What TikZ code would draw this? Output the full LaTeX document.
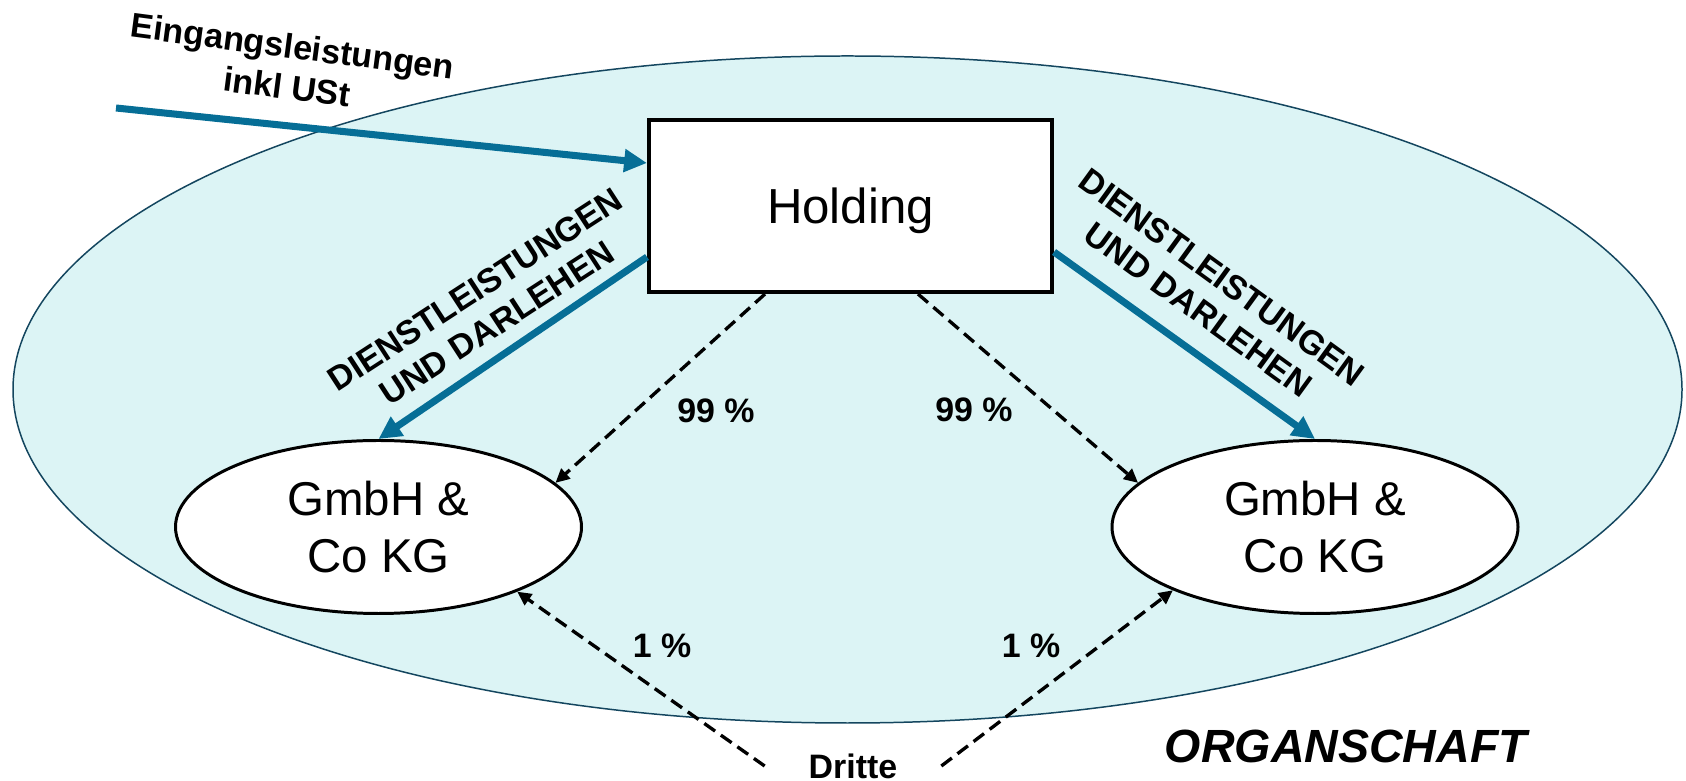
\documentclass[tikz,border=0pt]{standalone}
\usepackage{fontspec}
\setmainfont{Liberation Sans}
\usetikzlibrary{arrows.meta, positioning, shapes.geometric}
\definecolor{cflow}{RGB}{6, 110, 150}
\definecolor{corg} {RGB}{220, 244, 245}
\definecolor{cline}{RGB}{20,  70,  95}
\tikzset{
  hold/.style  = {rectangle, draw=black, fill=white, line width=2.3pt,
                  minimum width=8.06cm, minimum height=3.44cm,
                  font=\fontsize{28}{32}\selectfont, text depth=0pt},
  firm/.style  = {ellipse, draw=black, fill=white, line width=1.7pt,
                  minimum width=8.12cm, minimum height=3.46cm, inner sep=0pt,
                  align=center, font=\fontsize{27}{32.6}\selectfont},
  lbl/.style   = {font=\bfseries\fontsize{19.3}{22.8}\selectfont, inner sep=0pt},
  flow/.style  = {-{Triangle[length=13pt, width=12.5pt]}, cflow, line width=4pt},
  share/.style = {-{Triangle[length=8pt, width=7.5pt]}, dash pattern=on 7.5pt off 4pt,
                  line width=1.9pt}
}

\begin{document}
\begin{tikzpicture}
\useasboundingbox (0,0) rectangle (33.72,15.62);

% ── Organschaft (big ellipse) ─────────────────────────────────────────────
\filldraw[fill=corg, draw=cline, line width=0.85pt]
  (16.95,7.83) ellipse [x radius=16.69cm, y radius=6.67cm];
\node[font=\bfseries\itshape\fontsize{26.5}{30}\selectfont, inner sep=0pt]
  (org) at (26.92,0.69) {ORGANSCHAFT};

% ── Companies ──────────────────────────────────────────────────────────────
\node[hold] (hold) at (17.01,11.50) {Holding};
\node[firm] (gl)   at (7.57,5.08)   {GmbH \&\\Co KG};
\node[firm] (gr)   at (26.30,5.08)  {GmbH \&\\Co KG};
\node[lbl, minimum width=3.52cm] (dritte) at (17.06,0.30) {Dritte};

% ── Input services ─────────────────────────────────────────────────────────
\coordinate (src) at (2.32,13.46);
\draw[flow] (src) -- ([yshift=0.86cm]hold.west);
\node[lbl, align=center, rotate=-7.5, font=\bfseries\fontsize{19.5}{23.5}\selectfont]
  (inp) at (5.80,14.29) {Eingangsleistungen\\inkl USt};

% ── Services and loans ─────────────────────────────────────────────────────
\draw[flow] ([yshift=-1.02cm]hold.west) -- (gl.north);
\draw[flow] ([yshift=-0.92cm]hold.east) -- (gr.north);
\node[lbl, align=center, rotate=33]  (dl) at (9.72,9.49)
  {DIENSTLEISTUNGEN\\UND DARLEHEN};
\node[lbl, align=center, rotate=-36] (dr) at (24.20,9.75)
  {DIENSTLEISTUNGEN\\UND DARLEHEN};

% ── Shares ─────────────────────────────────────────────────────────────────
\draw[share] ([xshift=-1.71cm]hold.south) -- (gl.14.5);
\draw[share] ([xshift=1.35cm]hold.south)  -- (gr.166.4);
\draw[share] (dritte.west) -- (gl.-25.2);
\draw[share] (dritte.east) -- (gr.204.5);
\node[lbl] (pl) at (14.32,7.40) {99 \%};
\node[lbl] (pr) at (19.48,7.42) {99 \%};
\node[lbl] (ql) at (13.24,2.70) {1 \%};
\node[lbl] (qr) at (20.62,2.70) {1 \%};

\end{tikzpicture}
\end{document}
